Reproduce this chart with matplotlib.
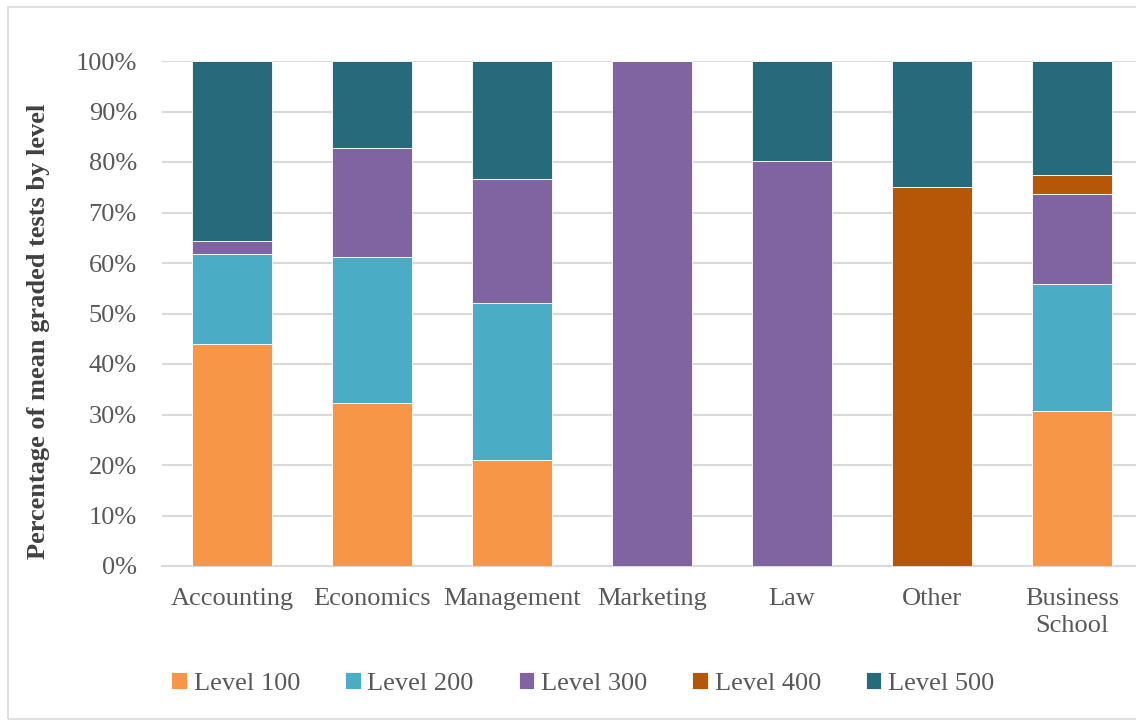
import numpy as np
import matplotlib
matplotlib.use('Agg')
import matplotlib.pyplot as plt
from matplotlib.patches import Rectangle
from matplotlib.ticker import PercentFormatter

categories = ['Accounting', 'Economics', 'Management', 'Marketing', 'Law', 'Other', 'Business\nSchool']
levels = ['Level 100', 'Level 200', 'Level 300', 'Level 400', 'Level 500']
level_100 = [43.9, 32.3, 21.0, 0.0, 0.0, 0.0, 30.7]
level_200 = [17.8, 28.9, 31.1, 0.0, 0.0, 0.0, 25.1]
level_300 = [2.7, 21.5, 24.5, 100.0, 80.1, 0.0, 17.8]
level_400 = [0.0, 0.0, 0.0, 0.0, 0.0, 75.0, 3.8]
level_500 = [35.6, 17.3, 23.4, 0.0, 19.9, 25.0, 22.6]
colors = ['#F79646', '#4BACC6', '#8064A2', '#B65708', '#276A7C']

plt.rcParams['font.family'] = ['Liberation Serif', 'DejaVu Serif']

fig = plt.figure(figsize=(11.36, 7.23), dpi=100)
ax = fig.add_axes([162 / 1136, 157 / 723, 980 / 1136, 505 / 723])

fig.patches.append(Rectangle((8 / 1136, 4 / 723), 1.2, 1 - 11 / 723, transform=fig.transFigure,
                             fill=False, edgecolor='#d9d9d9', linewidth=1.2))

x = np.arange(len(categories))
bottom = np.zeros(len(categories))
handles = []
for name, vals, c in zip(levels, [level_100, level_200, level_300, level_400, level_500], colors):
    vals = np.array(vals)
    b = ax.bar(x, vals, 0.57, bottom=bottom, color=c, edgecolor='white', linewidth=0.6, label=name, zorder=3)
    handles.append(b)
    bottom = bottom + vals

ax.set_xlim(-0.5, len(categories) - 0.5)
ax.set_ylim(0, 100)
ax.set_yticks(np.arange(0, 101, 10))
ax.yaxis.set_major_formatter(PercentFormatter(decimals=0))
ax.set_xticks(x)
ax.set_xticklabels(categories, linespacing=1.3)
ax.grid(axis='y', color='#d9d9d9', linewidth=1.5, zorder=0)
for s in ['top', 'right', 'left']:
    ax.spines[s].set_visible(False)
ax.spines['bottom'].set_color('#d9d9d9')
ax.spines['bottom'].set_linewidth(1.5)
ax.tick_params(axis='both', length=0, labelsize=19, labelcolor='#595959')
ax.tick_params(axis='x', pad=16)
ax.tick_params(axis='y', pad=18)
ax.set_ylabel('Percentage of mean graded tests by level', fontsize=19, fontweight='bold',
              color='#404040')
ax.yaxis.set_label_coords(-0.114, 0.465)

l = fig.legend(handles, levels, loc='center', ncol=5, bbox_to_anchor=(0.513, 0.055),
               frameon=False, fontsize=19, labelcolor='#595959', handlelength=0.6,
               handleheight=0.6, handletextpad=0.25, columnspacing=1.7)

fig.savefig('out.png', dpi=100)
